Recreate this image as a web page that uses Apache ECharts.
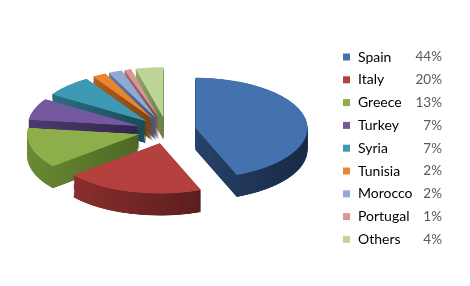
<!DOCTYPE html>
<html><head><meta charset="utf-8">
<script src="https://cdn.jsdelivr.net/npm/echarts@6/dist/echarts.min.js"></script>
<style>
html,body{margin:0;padding:0;background:#fff;width:470px;height:286px;overflow:hidden;}
#pie{position:absolute;left:0;top:0;width:470px;height:660px;transform:scaleY(0.45);transform-origin:0 0;}
#leg{position:absolute;left:0;top:0;width:470px;height:286px;}
</style></head>
<body>
<div id="pie"></div>
<div id="leg"></div>
<script>
const categories = ['Spain','Italy','Greece','Turkey','Syria','Tunisia','Morocco','Portugal','Others'];
const values = [44,20,13,7,7,2,2,1,4];
const topColors = ['#4472AE','#B5413F','#8DAE4A','#7458A0','#3E9AB4','#E9842F','#8FAAD6','#D99694','#BDD597'];
const sideLight = ['#27426A','#8A2F2D','#6A8A34','#4C3A70','#2A6F82','#B0601E','#5F7AA5','#A56A68','#8FA86C'];
const sideDark  = ['#172A45','#5A1E1E','#4E6824','#32264D','#1B4B58','#7E4212','#3F577E','#7A4846','#6A7F4C'];

const CX = 167, CY = 290, R = 112, DEPTH = 49, STEP = 2, EXPLODE = 29;
const series = [];
for (let d = DEPTH; d > 0; d -= STEP) {
  series.push({
    type: 'pie', silent: true, animation: false,
    center: [CX, CY + d], radius: [0, R], startAngle: 90, clockwise: true,
    selectedMode: 'multiple', selectedOffset: EXPLODE,
    label: {show: false}, labelLine: {show: false},
    emphasis: {disabled: true}, select: {itemStyle: {}},
    data: categories.map((c, i) => ({
      name: c, value: values[i], selected: true,
      itemStyle: {color: {type: 'linear', x: 0, y: 0, x2: 1, y2: 0,
        colorStops: [{offset: 0, color: sideLight[i]}, {offset: 1, color: sideDark[i]}]}}
    }))
  });
}
series.push({
  type: 'pie', silent: true, animation: false,
  center: [CX, CY], radius: [0, R], startAngle: 90, clockwise: true,
  selectedMode: 'multiple', selectedOffset: EXPLODE,
  label: {show: false}, labelLine: {show: false},
  emphasis: {disabled: true}, select: {itemStyle: {}},
  data: categories.map((c, i) => ({name: c, value: values[i], selected: true, itemStyle: {color: topColors[i]}}))
});
echarts.init(document.getElementById('pie'), null, {renderer: 'canvas'}).setOption({animation: false, series});

const leg = echarts.init(document.getElementById('leg'));
leg.setOption({
  animation: false,
  legend: {
    orient: 'vertical', left: 338, top: 45, icon: 'rect', itemWidth: 7, itemHeight: 7,
    itemGap: 8.8, selectedMode: false,
    data: categories,
    formatter: name => '{n|' + name + '}{p|' + values[categories.indexOf(name)] + '%}',
    textStyle: {
      rich: {
        n: {fontFamily: 'Lato', fontSize: 14, color: '#000', width: 57, lineHeight: 16, padding: [0, 0, 0, 3]},
        p: {fontFamily: 'Lato', fontSize: 13.5, color: '#595959', width: 27, align: 'right', lineHeight: 16}
      }
    }
  },
  series: [{
    type: 'pie', silent: true, center: [-200, -200], radius: 1, label: {show: false},
    data: categories.map((c, i) => ({name: c, value: values[i], itemStyle: {color: topColors[i]}}))
  }]
});
</script>
</body></html>
